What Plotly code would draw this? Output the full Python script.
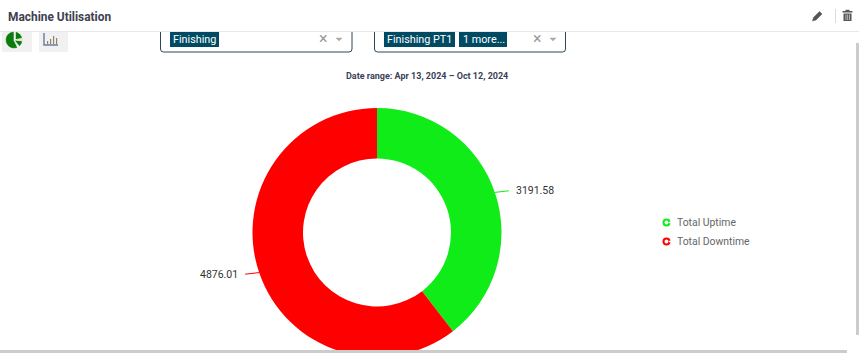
import math
import plotly.graph_objects as go

W, H = 859, 400  # page canvas is taller than the window so the donut is cut off at the bottom

title = "Machine Utilisation"
date_range = "Date range: Apr 13, 2024 – Oct 12, 2024"
categories = ["Total Uptime", "Total Downtime"]
values = [3191.58, 4876.01]
value_labels = ["3191.58", "4876.01"]
colors = ["#0fec17", "#ff0000"]
chips_left = ["Finishing"]
chips_right = ["Finishing PT1", "1 more..."]

CX, CY, R, HOLE_R = 377, 232.5, 124.5, 74
FONT = "Roboto, Arial, sans-serif"


def px(x):
    return x / W


def py(y):
    return 1 - y / H


def P(*pts, close=False):
    s = "M" + " L".join(f"{px(x):.5f},{py(y):.5f}" for x, y in pts)
    return s + (" Z" if close else "")


shapes = []
ann = []


def rect(x0, y0, x1, y1, fill, line=None, lw=0):
    shapes.append(dict(type="rect", xref="paper", yref="paper", layer="above",
                       x0=px(x0), x1=px(x1), y0=py(y0), y1=py(y1), fillcolor=fill,
                       line=dict(color=line or fill, width=lw)))


def path(d, color, width=1, fill=None):
    shapes.append(dict(type="path", xref="paper", yref="paper", layer="above", path=d,
                       fillcolor=fill or "rgba(0,0,0,0)", line=dict(color=color, width=width)))


def circle(cx, cy, r, fill, line, lw):
    shapes.append(dict(type="circle", xref="paper", yref="paper", layer="above",
                       x0=px(cx - r), x1=px(cx + r), y0=py(cy + r), y1=py(cy - r),
                       fillcolor=fill, line=dict(color=line, width=lw)))


def text(x, y, s, size=12, color="#333", anchor="left", bold=False):
    ann.append(dict(xref="paper", yref="paper", x=px(x), y=py(y), text=f"<b>{s}</b>" if bold else s,
                    showarrow=False, xanchor=anchor, yanchor="middle", borderpad=0, borderwidth=0,
                    font=dict(family=FONT, size=size, color=color)))


# header
text(8, 17, title, 11.9, "#3d4150", bold=True)
rect(0, 31, W, 32, "#e9e9e9")
rect(835, 9, 836, 23, "#dddddd")
# pencil
path(P((813.5, 17.5), (819.5, 11.5), (822, 14), (816, 20), (812.5, 21), close=True), "#555", 0.5, "#555")
# trash
rect(842.5, 11, 852.5, 12.5, "#555")
rect(845.5, 9.8, 849.5, 11, "#555")
rect(843.5, 13.5, 851.5, 21, "#555")
for x in (845.6, 847.4, 849.2):
    rect(x, 14.5, x + 0.7, 20, "#dddddd")

# chart-type buttons
rect(2, 32, 32, 52, "#f1f1f1")
rect(39, 32, 68, 52, "#f1f1f1")
circle(14, 40, 8, "#0a7d0a", "#0a7d0a", 0.5)
path(P((14, 40), (23.5, 38), (23.5, 41), close=True), "#f1f1f1", 0.8, "#e8e8c0")
path(P((14, 40), (14, 31), (15.5, 31), (15.5, 40), close=True), "#f1f1f1", 0.6, "#f1f1f1")
path(P((14, 40), (20, 47), (18, 48.5), close=True), "#f1f1f1", 0.8, "#f1f1f1")
path(P((44, 33), (44, 45), (58, 45)), "#6d7a9f", 1.4)
for x, top in zip((47, 50, 53, 56), (41, 39, 36, 38)):
    rect(x, top, x + 1.2, 44, "#8f8468")

# filter boxes
for x0, x1 in ((160.5, 352), (374.5, 565.5)):
    path(f"M{px(x0)},{py(32)} L{px(x0)},{py(49)} Q{px(x0)},{py(52)} {px(x0 + 3)},{py(52)} "
         f"L{px(x1 - 3)},{py(52)} Q{px(x1)},{py(52)} {px(x1)},{py(49)} L{px(x1)},{py(32)}",
         "#2e4757", 1)
for cx_x, cx_c in ((323, 339), (537, 553)):
    text(cx_x, 38.5, "×", 16, "#9a9a9a", "center")
    path(P((cx_c - 3, 38), (cx_c + 3, 38), (cx_c, 41), close=True), "#aaaaaa", 0.5, "#aaaaaa")

CHIP = "#004a63"
rect(170, 32, 219, 47, CHIP)
text(172.5, 39.5, chips_left[0], 10.8, "#ffffff")
rect(384, 32, 455, 47, CHIP)
text(386.5, 39.5, chips_right[0], 10.8, "#ffffff")
rect(459, 32, 507, 47, CHIP)
text(463, 39.5, chips_right[1], 10.8, "#ffffff")

text(427, 76, date_range, 9, "#3a3f58", "center", bold=True)

# value labels and leader lines, placed from the values
total = sum(values)
cum = 0
for v, lab, col in zip(values, value_labels, colors):
    mid = (cum + v / 2) / total * 2 * math.pi
    cum += v
    s, c = math.sin(mid), math.cos(mid)
    x0, y0 = CX + R * s, CY - R * c
    side = 1 if s >= 0 else -1
    x1, y1 = x0 + side * 14, y0 - c * 5
    path(P((x0, y0), (x1, y1)), col, 1)
    text(x1 + side * 7, y1, lab, 10.5, "#333333", "left" if side > 0 else "right")

# legend
for name, col, y in zip(categories, colors, (222.5, 241.5)):
    circle(666.5, y, 3, "#ffffff", col, 2)
    rect(669, y - 0.8, 671, y + 0.8, "#ffffff")
    text(677, y, name, 10.4, "#666666")

# scrollbars
rect(856, 43, 859, 335, "#cccccc")
rect(0, 350, 847, 353, "#cccccc")

fig = go.Figure(go.Pie(
    labels=categories, values=values, sort=False, direction="clockwise", rotation=0,
    hole=HOLE_R / R, marker=dict(colors=colors, line=dict(width=0)),
    textinfo="none", showlegend=False,
    domain=dict(x=[px(CX - R), px(CX + R)], y=[py(CY + R), py(CY - R)]),
))
fig.update_layout(width=W, height=H, autosize=False, margin=dict(l=0, r=0, t=0, b=0),
                  paper_bgcolor="#ffffff", shapes=shapes, annotations=ann)
fig.write_html("out.html", config=dict(displayModeBar=False),
               post_script="document.documentElement.style.overflow='hidden';"
                           "document.body.style.margin='0';document.body.style.overflow='hidden';")
